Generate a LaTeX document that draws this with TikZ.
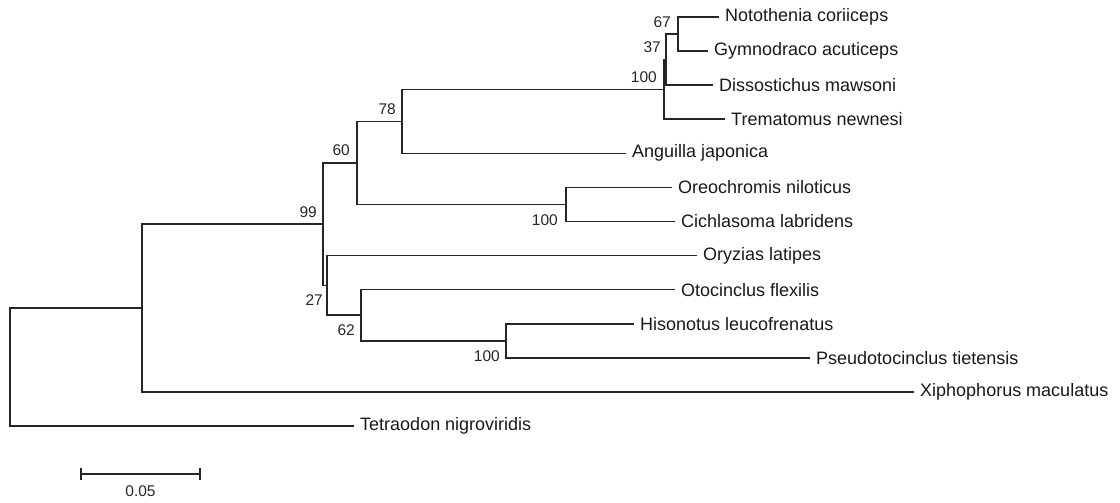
\documentclass[tikz,border=0pt]{standalone}
\usepackage{fontspec}
\setmainfont{Liberation Sans}
\usetikzlibrary{calc}
\begin{document}
\begin{tikzpicture}[x=1pt,y=-1pt,
  br/.style={draw=black!85, line width=1.6pt},
  taxon/.style={anchor=west, inner xsep=6pt, inner ysep=0pt, font=\fontsize{18}{18}\selectfont, text=black!90},
  bs/.style={anchor=east, inner sep=0pt, font=\fontsize{15.5}{15.5}\selectfont, text=black!85}
]
\useasboundingbox (0,0) rectangle (1120,503);
% internal nodes
\coordinate (n67) at (678,34);
\coordinate (n37) at (666,59.6);
\coordinate (n100a) at (664,89.4);
\coordinate (n78) at (402,121.4);
\coordinate (n100c) at (566,204.4);
\coordinate (n60) at (357,162.9);
\coordinate (n100b) at (506,340.7);
\coordinate (n62) at (361,315.2);
\coordinate (n27) at (327,285.4);
\coordinate (n99) at (323,224.1);
\coordinate (nA) at (142,308);
\coordinate (root) at (10,367);
% leaves
\node[taxon] (t0) at (719,17) {Notothenia coriiceps};
\node[taxon] (t1) at (708,51.1) {Gymnodraco acuticeps};
\node[taxon] (t2) at (713,85.2) {Dissostichus mawsoni};
\node[taxon] (t3) at (725,119.2) {Trematomus newnesi};
\node[taxon] (t4) at (626,153.3) {Anguilla japonica};
\node[taxon] (t5) at (672,187.4) {Oreochromis niloticus};
\node[taxon] (t6) at (675,221.5) {Cichlasoma labridens};
\node[taxon] (t7) at (697,255.6) {Oryzias latipes};
\node[taxon] (t8) at (675,289.6) {Otocinclus flexilis};
\node[taxon] (t9) at (634,323.7) {Hisonotus leucofrenatus};
\node[taxon] (t10) at (810,357.8) {Pseudotocinclus tietensis};
\node[taxon] (t11) at (914,391.9) {Xiphophorus maculatus};
\node[taxon] (t12) at (354,426) {Tetraodon nigroviridis};
% branches
\draw[br] (n67) |- (t0.west);
\draw[br] (n67) |- (t1.west);
\draw[br] (n37) |- (n67);
\draw[br] (n37) |- (t2.west);
\draw[br] (n100a) |- (n37);
\draw[br] (n100a) |- (t3.west);
\draw[br] (n78) |- (n100a);
\draw[br] (n78) |- (t4.west);
\draw[br] (n100c) |- (t5.west);
\draw[br] (n100c) |- (t6.west);
\draw[br] (n60) |- (n78);
\draw[br] (n60) |- (n100c);
\draw[br] (n100b) |- (t9.west);
\draw[br] (n100b) |- (t10.west);
\draw[br] (n62) |- (t8.west);
\draw[br] (n62) |- (n100b);
\draw[br] (n27) |- (t7.west);
\draw[br] (n27) |- (n62);
\draw[br] (n99) |- (n60);
\draw[br] (n99) |- (n27);
\draw[br] (nA) |- (n99);
\draw[br] (nA) |- (t11.west);
\draw[br] (root) |- (nA);
\draw[br] (root) |- (t12.west);
% bootstrap values
\node[bs] (b67) at ($(n67)+(-7,-12)$) {67};
\node[bs] (b37) at ($(n37)+(-5,-12)$) {37};
\node[bs] (b100a) at ($(n100a)+(-7,-12)$) {100};
\node[bs] (b78) at ($(n78)+(-6,-12)$) {78};
\node[bs] (b60) at ($(n60)+(-7,-13)$) {60};
\node[bs] (b99) at ($(n99)+(-6,-12)$) {99};
\node[bs] (b100c) at ($(n100c)+(-8,16)$) {100};
\node[bs] (b27) at ($(n27)+(-4,15)$) {27};
\node[bs] (b62) at ($(n62)+(-6,15)$) {62};
\node[bs] (b100b) at ($(n100b)+(-6,15)$) {100};
% scale bar
\coordinate (s1) at (81,474);
\coordinate (s2) at (200,474);
\draw[br] (s1) -- (s2);
\draw[br] ($(s1)+(0,-6)$) -- ($(s1)+(0,6)$);
\draw[br] ($(s2)+(0,-6)$) -- ($(s2)+(0,6)$);
\node[inner sep=0pt, font=\fontsize{15.5}{15.5}\selectfont, text=black!85] (sl) at ($(s1)!0.5!(s2)+(0,17)$) {0.05};
\end{tikzpicture}
\end{document}
